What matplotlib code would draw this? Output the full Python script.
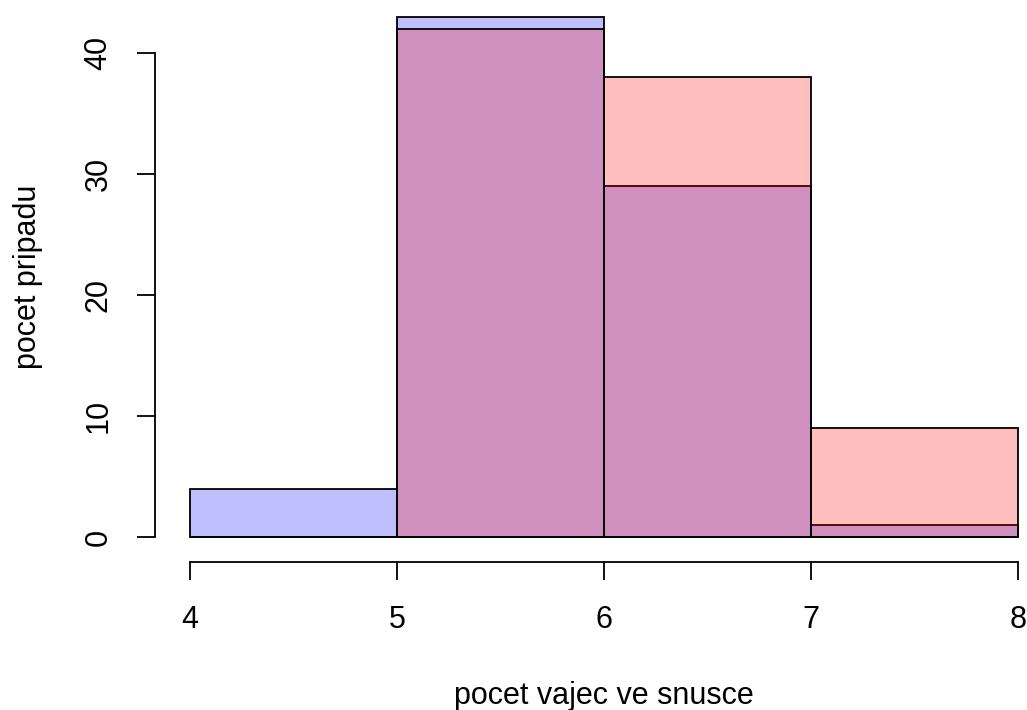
import numpy as np
import matplotlib
matplotlib.use("Agg")
import matplotlib.pyplot as plt

# hranice trid a cetnosti obou skupin
hranice = [4, 5, 6, 7, 8]
cetnosti_modra = [4, 43, 29, 1]
cetnosti_cervena = [0, 42, 38, 9]
y_ticky = [0, 10, 20, 30, 40]
x_ticky = [4, 5, 6, 7, 8]

plt.rcParams["font.family"] = ["Liberation Sans", "DejaVu Sans"]

fig = plt.figure(figsize=(10.27, 7.10), dpi=100)
W, H = 1027, 710
# osa v pixelech: x 190..1018, y 0 -> 537, 43 -> 17
ax = fig.add_axes([190 / W, (H - 537) / H, (1018 - 190) / W, (537 - 17) / H])

leve = np.array(hranice[:-1])
sirky = np.diff(hranice)

ax.bar(leve, cetnosti_modra, width=sirky, align="edge",
       color=(0, 0, 1, 0.25), edgecolor="black", linewidth=1.3, clip_on=False)
ax.bar(leve, cetnosti_cervena, width=sirky, align="edge",
       color=(1, 0, 0, 0.25), edgecolor="black", linewidth=1.3, clip_on=False)

ax.set_xlim(4, 8)
ax.set_ylim(0, 43)

for s in ["top", "right"]:
    ax.spines[s].set_visible(False)
ax.spines["left"].set_position(("outward", 25))
ax.spines["bottom"].set_position(("outward", 18))
ax.spines["left"].set_bounds(0, 40)
ax.spines["bottom"].set_bounds(4, 8)
ax.spines["left"].set_linewidth(1.3)
ax.spines["bottom"].set_linewidth(1.3)

ax.set_yticks(y_ticky)
ax.set_xticks(x_ticky)
ax.tick_params(axis="both", length=13, width=1.3, labelsize=22)
ax.tick_params(axis="x", pad=18)
ax.tick_params(axis="y", pad=17)
for lab in ax.get_yticklabels():
    lab.set_rotation(90)
    lab.set_va("center")

ax.set_xlabel("pocet vajec ve snusce", fontsize=22, labelpad=33)
ax.set_ylabel("pocet pripadu", fontsize=22, labelpad=29)

fig.savefig("out.png", dpi=100)
